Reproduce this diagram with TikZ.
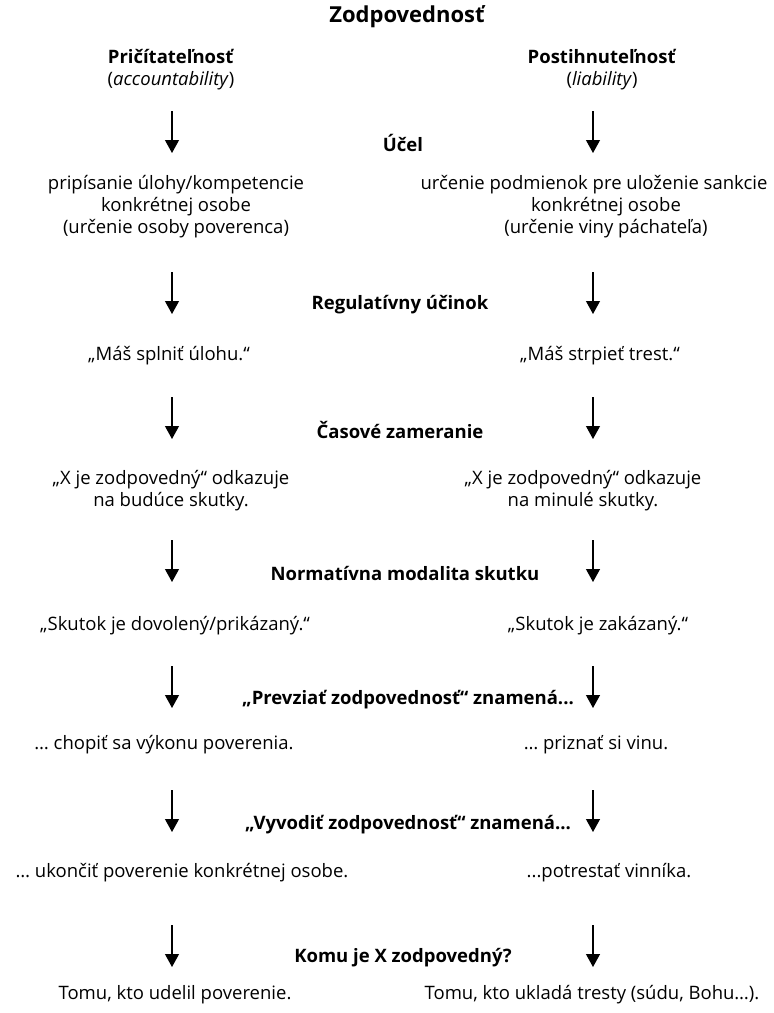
\documentclass[tikz,border=0pt]{standalone}
\usepackage{fontspec}
\setmainfont{Open Sans}
\usetikzlibrary{arrows.meta}
\tikzset{
  txt/.style={align=center, inner sep=0pt, font=\fontsize{18.5}{22}\selectfont},
  lbl/.style={align=center, inner sep=0pt, font=\fontsize{18.5}{22}\selectfont\bfseries},
  arr/.style={line width=1.2pt, -{Triangle[width=14pt,length=13pt]}}
}
\begin{document}
\begin{tikzpicture}[x=1pt, y=-1pt]
	\useasboundingbox (0,0) rectangle (774,1013);
	\node[lbl, font=\fontsize{22}{24}\selectfont\bfseries] (title) at (407,17) {Zodpovednosť};
	\node[txt] (acc) at (171,70) {\textbf{Pričítateľnosť}\\(\textit{accountability})};
	\node[txt] (lia) at (602,70) {\textbf{Postihnuteľnosť}\\(\textit{liability})};

	% stlpec vlavo
	\node[txt] (accA) at (176,207) {pripísanie úlohy/kompetencie\\konkrétnej osobe\\(určenie osoby poverenca)};
	\node[txt] (accB) at (169,356) {„Máš splniť úlohu.“};
	\node[txt] (accC) at (171,491) {„X je zodpovedný“ odkazuje\\na budúce skutky.};
	\node[txt] (accD) at (175,626) {„Skutok je dovolený/prikázaný.“};
	\node[txt] (accE) at (164,745) {… chopiť sa výkonu poverenia.};
	\node[txt] (accF) at (182,873) {… ukončiť poverenie konkrétnej osobe.};
	\node[txt] (accG) at (175,995) {Tomu, kto udelil poverenie.};

	% stlpec vpravo
	\node[txt] (liaA) at (606,207) {určenie podmienok pre uloženie sankcie\hspace*{24pt}\\konkrétnej osobe\\(určenie viny páchateľa)};
	\node[txt] (liaB) at (600,356) {„Máš strpieť trest.“};
	\node[txt] (liaC) at (583,491) {„X je zodpovedný“ odkazuje\\na minulé skutky.};
	\node[txt] (liaD) at (598,626) {„Skutok je zakázaný.“};
	\node[txt] (liaE) at (596,745) {… priznať si vinu.};
	\node[txt] (liaF) at (609,873) {...potrestať vinníka.};
	\node[txt] (liaG) at (592,995) {Tomu, kto ukladá tresty (súdu, Bohu…).};

	% kriteria v strede
	\node[lbl] (ucel) at (403,143) {Účel};
	\node[lbl] (ucinok) at (400,305) {Regulatívny účinok};
	\node[lbl] (cas) at (400,430) {Časové zameranie};
	\node[lbl] (modal) at (405,573) {Normatívna modalita skutku};
	\node[lbl] (prevziat) at (408,700) {„Prevziať zodpovednosť“ znamená...};
	\node[lbl] (vyvodit) at (408,825) {„Vyvodiť zodpovednosť“ znamená...};
	\node[lbl] (komu) at (403,958) {Komu je X zodpovedný?};

	% sipky
	\foreach \t [count=\i] in {111,272,397,540,666,790,925} {
		\coordinate (l\i) at (172,\t);
		\coordinate (r\i) at (593,\t);
		\draw[arr] (l\i) -- ++(0,42);
		\draw[arr] (r\i) -- ++(0,42);
	}
\end{tikzpicture}
\end{document}
